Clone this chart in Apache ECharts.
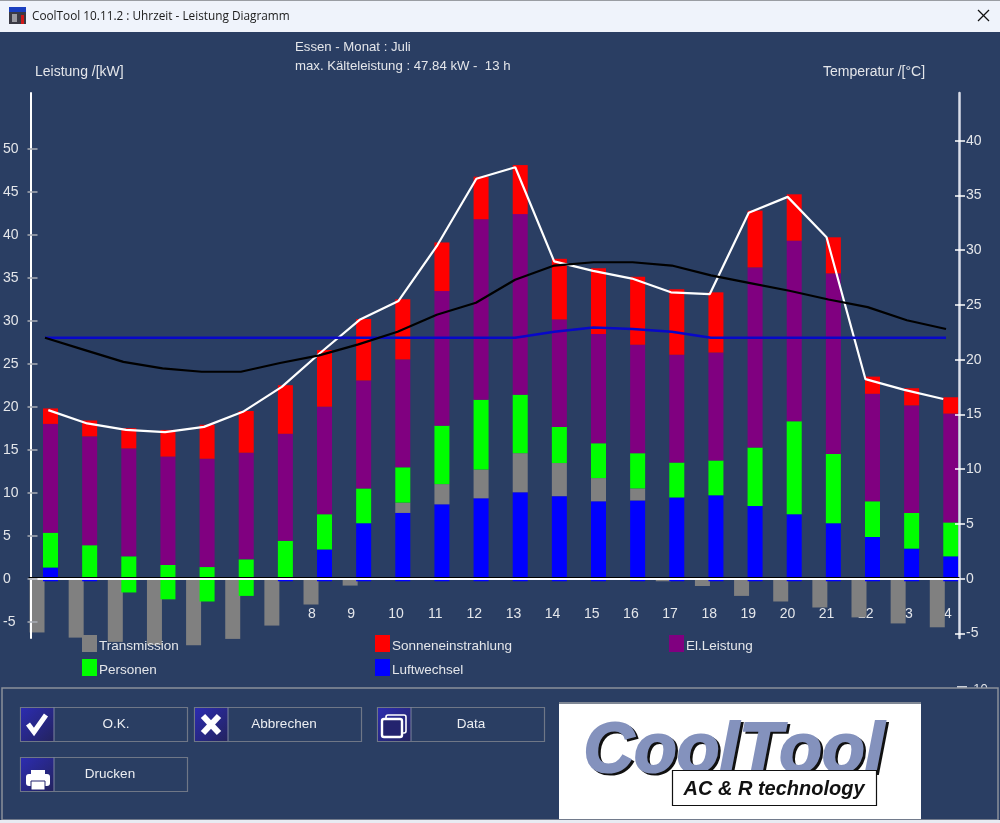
<!DOCTYPE html>
<html><head><meta charset="utf-8">
<style>html,body{margin:0;padding:0;background:#2a3e63}#c{width:1000px;height:823px}</style>
<script src="https://cdn.jsdelivr.net/npm/echarts@6/dist/echarts.min.js"></script>
</head><body><div id="c"></div>
<script>
const stunden = [1,2,3,4,5,6,7,8,9,10,11,12,13,14,15,16,17,18,19,20,21,22,23,24];
const luftwechsel = [1.3,0,-1.6,-2.4,-2.65,-2.0,0.2,3.4,6.45,7.65,8.65,9.35,10.05,9.6,9.0,9.1,9.45,9.7,8.45,7.5,6.45,4.85,3.5,2.6];
const transmission = [-6.25,-6.85,-7.35,-7.7,-7.75,-7.0,-5.45,-3.0,-0.8,1.2,2.35,3.35,4.55,3.85,2.7,1.4,-0.3,-0.85,-2.0,-2.65,-3.35,-4.5,-5.2,-5.65];
const personen = [4.05,3.9,4.2,4.0,4.0,4.25,4.2,4.1,4.05,4.1,6.8,8.1,6.8,4.2,4.05,4.1,4.05,4.05,6.8,10.8,8.05,4.15,4.15,3.95];
const elLeistung = [12.65,12.65,12.55,12.6,12.6,12.4,12.45,12.5,12.55,12.55,15.65,21.0,21.0,12.5,12.7,12.6,12.55,12.55,20.95,21.0,21.0,12.5,12.5,12.65];
const sonne = [1.8,1.85,2.35,3.1,3.95,4.85,5.65,6.6,7.15,7.0,5.65,4.95,5.7,7.05,7.65,7.9,7.6,7.0,6.6,5.4,4.2,2.0,2.0,1.9];
const gesamt = [19.6,18.05,17.3,17.05,17.65,19.4,22.3,26.3,30.1,32.3,38.8,46.5,47.84,36.9,35.8,34.9,33.3,33.1,42.55,44.4,39.7,23.2,21.95,20.9];
const aussenTemp = [22,20.9,19.8,19.2,18.9,18.9,19.7,20.4,21.4,22.55,24.1,25.2,27.3,28.6,28.9,28.9,28.6,27.7,27.0,26.3,25.5,24.8,23.6,22.8];
const raumTemp = [22,22,22,22,22,22,22,22,22,22,22,22,22,22.55,22.95,22.8,22.55,22,22,22,22,22,22,22];
const kwTicks = [-5,0,5,10,15,20,25,30,35,40,45,50];
const tempTicks = [-5,0,5,10,15,20,25,30,35,40];

const BG='#2a3e63', TXT='#e4e6ea', FONT='"Liberation Sans"';
const kw={min:-6.9,max:56.48}, temp={min:-5.42,max:44.36};
const TOP=93;

const grids=[
 {left:24.2,width:939.4,top:TOP,height:567},   // 0 bars (runs deeper than the axis so long grey bars show)
 {left:28.85,width:933.9,top:TOP,height:545},  // 1 total line
 {left:25.4,width:940.2,top:TOP,height:545},   // 2 temperature lines
 {left:29,width:930,top:TOP,height:545},       // 3 visible frame
 {left:29,width:930,top:TOP-1.6,height:545},   // 4 thin black edge on the zero line
 {left:24.2,width:939.4,top:TOP,height:485.7}  // 5 hour labels, hung from the zero line
];
const hiddenX=i=>({type:'category',gridIndex:i,data:stunden,show:false});
const xAxes=[
 hiddenX(0),hiddenX(1),hiddenX(2),
 {type:'value',gridIndex:3,min:0,max:1,z:10,axisLine:{onZero:true,lineStyle:{color:'#fff',width:2}},axisTick:{show:false},axisLabel:{show:false},splitLine:{show:false}},
 {type:'value',gridIndex:4,min:0,max:1,z:10,axisLine:{onZero:true,lineStyle:{color:'#000',width:1}},axisTick:{show:false},axisLabel:{show:false},splitLine:{show:false}},
 {type:'category',gridIndex:5,position:'bottom',data:stunden,z:0,axisLine:{show:false},axisTick:{show:false},
  axisLabel:{show:true,interval:0,margin:28,color:TXT,fontFamily:FONT,fontSize:14,formatter:v=>(+v)<10?v+'   ':v+''}}
];
const hiddenY=(i,r)=>({type:'value',gridIndex:i,min:r.min,max:r.max,show:false,splitLine:{show:false}});
const yAxes=[
 {type:'value',gridIndex:0,min:-(660-578.7)/8.6,max:56.48,show:false,splitLine:{show:false}}, //0
 hiddenY(1,kw), //1
 hiddenY(2,temp), //2
 {type:'value',gridIndex:3,position:'left',offset:-7,min:kw.min,max:kw.max,z:10,splitLine:{show:false},axisLine:{show:false},
  axisTick:{show:true,length:10,customValues:kwTicks,lineStyle:{color:'#a9adb5',width:1.5}},
  axisLabel:{customValues:kwTicks,margin:34.5,align:'left',color:TXT,fontFamily:FONT,fontSize:14,padding:[4,0,0,0]}}, //3
 {type:'value',gridIndex:3,position:'left',min:kw.min,max:kw.max,z:10,splitLine:{show:false},axisLine:{show:true,onZero:false,lineStyle:{color:'#fff',width:2}},axisTick:{show:false},axisLabel:{show:false}}, //4
 {type:'value',gridIndex:3,position:'right',offset:6,min:temp.min,max:temp.max,z:10,splitLine:{show:false},axisLine:{show:false},
  axisTick:{show:true,inside:true,length:10,customValues:tempTicks,lineStyle:{color:'#fff',width:1.5}},
  axisLabel:{customValues:tempTicks,margin:1,color:TXT,fontFamily:FONT,fontSize:14,padding:[4,0,0,0]}}, //5
 {type:'value',gridIndex:3,position:'right',min:temp.min,max:temp.max,z:10,splitLine:{show:false},axisLine:{show:true,onZero:false,lineStyle:{color:'#d9dde8',width:2.5,cap:'round'}},axisTick:{show:false},axisLabel:{show:false}}, //6
 hiddenY(4,kw), //7
 {type:'value',gridIndex:5,min:0,max:56.48,show:false,splitLine:{show:false}} //8
];

// Cumulative split: a negative Luftwechsel pulls the Personen block below the zero line.
const luftPos=luftwechsel.map(v=>v>0?v:null);
const persPos=luftwechsel.map((v,i)=>v<0?v+personen[i]:personen[i]);
const persNeg=luftwechsel.map(v=>v<0?v:null);
const luftKante=luftwechsel.map(v=>v<0?null:-0.3);
const transPos=transmission.map(v=>v>0?v:null);
const transNeg=transmission.map(v=>v<0?v:null);

const bar=(name,stack,data,color)=>({name,type:'bar',stack,data,xAxisIndex:0,yAxisIndex:0,barWidth:15,barGap:'-10%',itemStyle:{color},z:2,silent:true,clip:false,animation:false});
const line=(name,data,color,w,xi,yi,z)=>({name,type:'line',data,xAxisIndex:xi,yAxisIndex:yi,symbol:'none',lineStyle:{color,width:w},z,animation:false,silent:true});
const series=[
 bar('Transmission','neg',transNeg,'#808080'),
 bar('Luftwechsel','main',luftPos,'#0000ff'),
 bar('Transmission','main',transPos,'#808080'),
 bar('Personen','main',persPos,'#00ff00'),
 bar('El.Leistung','main',elLeistung,'#800080'),
 bar('Sonneneinstrahlung','main',sonne,'#ff0000'),
 bar('Personen','main',persNeg,'#00ff00'),
 bar('Luftwechsel','main',luftKante,'#0000ff'),
 line('Gesamt',gesamt,'#ffffff',2.2,1,1,5),
 line('Raumtemperatur',raumTemp,'#0808c8',2.5,2,2,6),
 line('Aussentemperatur',aussenTemp,'#000000',2.2,2,2,7)
];
const leg=(name,left,top)=>({data:[name],left,top,padding:0,orient:'horizontal',z:20,itemWidth:15,itemHeight:17,itemGap:2,selectedMode:false,
  icon:'rect',formatter:n=>'{t|'+n+'}',
  textStyle:{padding:[0,0,0,-3],rich:{t:{color:TXT,fontFamily:FONT,fontSize:13.5,padding:[6,0,0,0]}}}});
const legends=[leg('Transmission',82,635),leg('Sonneneinstrahlung',375,635),leg('El.Leistung',669,635),leg('Personen',82,659),leg('Luftwechsel',375,659)];

// Window chrome
const PZ=50;
const rect=(x,y,w,h,fill,extra)=>Object.assign({type:'rect',silent:true,z:PZ,shape:{x,y,width:w,height:h},style:{fill}},extra||{});
const text=(x,y,t,o)=>({type:'text',silent:true,z:(o&&o.z)||PZ+1,x,y,style:Object.assign({text:t,fill:TXT,font:'13px '+FONT,textVerticalAlign:'middle',textAlign:'left'},o||{})});
const pl=(pts,stroke,lw)=>({type:'polyline',silent:true,z:PZ+3,shape:{points:pts},style:{stroke,lineWidth:lw,fill:null,lineCap:'butt'}});
const iconFill={type:'linear',x:0,y:0,x2:1,y2:1,colorStops:[{offset:0,color:'#2c2cb0'},{offset:1,color:'#23235e'}]};
function button(x,y,w,label,cx){
 return [
  rect(x+.5,y+.5,w,34,BG,{style:{fill:BG,stroke:'#6f7787',lineWidth:1.2}}),
  rect(x+1,y+1,33,33,iconFill,{z:PZ+1}),
  {type:'line',silent:true,z:PZ+2,shape:{x1:x+34,y1:y,x2:x+34,y2:y+34},style:{stroke:'#7c84a0',lineWidth:1}},
  text(cx,y+17.5,label,{textAlign:'center',fill:'#eceef2',font:'13.5px '+FONT})
 ];
}
const graphic=[
 rect(0,0,1000,32,'#eff3fb'),
 rect(0,0,1000,1,'#9a9da3'),
 rect(9,7,17,17,'#3a3a44',{z:PZ+1}),
 rect(9,7,17,5,'#1a3fc0',{z:PZ+2}),
 rect(21,15,3,9,'#d01818',{z:PZ+2}),
 rect(12,14,5,8,'#9a9aa0',{z:PZ+2}),
 text(32,16.5,'CoolTool 10.11.2 : Uhrzeit - Leistung Diagramm',{fill:'#1b1b1b',font:'11.8px "Open Sans"'}),
 pl([[978,10],[989,21]],'#111',1.3), pl([[989,10],[978,21]],'#111',1.3),
 text(295,47.5,'Essen - Monat : Juli',{font:'13.2px '+FONT}),
 text(295,66.5,'max. Kälteleistung : 47.84 kW -  13 h',{font:'13.2px '+FONT}),
 text(35,72.5,'Leistung /[kW]',{font:'14px '+FONT}),
 text(823,72.5,'Temperatur /[°C]',{font:'14px '+FONT}),
 {type:'line',silent:true,z:12,shape:{x1:957,y1:687,x2:967,y2:687},style:{stroke:'#fff',lineWidth:1.5}},
 text(969,689,'-10',{z:12,font:'13px '+FONT}),
 rect(2,688,996,132,BG,{style:{fill:BG,stroke:'#8b909a',lineWidth:1.5}}),
 rect(0,820,1000,3,'#e8ebf2',{z:PZ+1}),
 ...button(20,707,167,'O.K.',116),
 ...button(194,707,167,'Abbrechen',284),
 ...button(377,707,167,'Data',471),
 ...button(20,757,167,'Drucken',110),
 pl([[28,724],[34,732],[46,715]],'#fff',5),
 pl([[203,716],[219,733]],'#fff',6), pl([[219,716],[203,733]],'#fff',6),
 {type:'rect',silent:true,z:PZ+3,shape:{x:386,y:715,width:20,height:18,r:2},style:{fill:null,stroke:'#fff',lineWidth:1.6}},
 {type:'rect',silent:true,z:PZ+4,shape:{x:382,y:719,width:20,height:18,r:2},style:{fill:'#23236e',stroke:'#fff',lineWidth:2.4}},
 rect(31,770,14,4,'#fff',{z:PZ+3}),
 {type:'rect',silent:true,z:PZ+3,shape:{x:26,y:774,width:24,height:12,r:3},style:{fill:'#fff'}},
 rect(31,781,14,9,'#fff',{z:PZ+4,style:{fill:'#fff',stroke:'#23236e',lineWidth:1}}),
 rect(559,703,362,116,'#ffffff',{z:PZ+1}),
 rect(559,702,362,2,'#7f8794',{z:PZ+2}),
 text(586,755,'CoolTool',{z:PZ+2,fill:'#111',stroke:'#111',lineWidth:2,font:'italic bold 70px "Liberation Sans"'}),
 text(583.5,753,'CoolTool',{z:PZ+3,fill:'#8492bd',stroke:'#8492bd',lineWidth:2,font:'italic bold 70px "Liberation Sans"'}),
 rect(672.5,770.5,204,35,'#fff',{z:PZ+4,style:{fill:'#fff',stroke:'#111',lineWidth:1.2}}),
 text(774,789,'AC & R technology',{z:PZ+5,textAlign:'center',fill:'#111',font:'italic bold 20px "Liberation Sans"'})
];

const chart=echarts.init(document.getElementById('c'),null,{width:1000,height:823});
chart.setOption({backgroundColor:BG,animation:false,grid:grids,xAxis:xAxes,yAxis:yAxes,legend:legends,series,graphic,tooltip:{show:false}});
</script></body></html>
